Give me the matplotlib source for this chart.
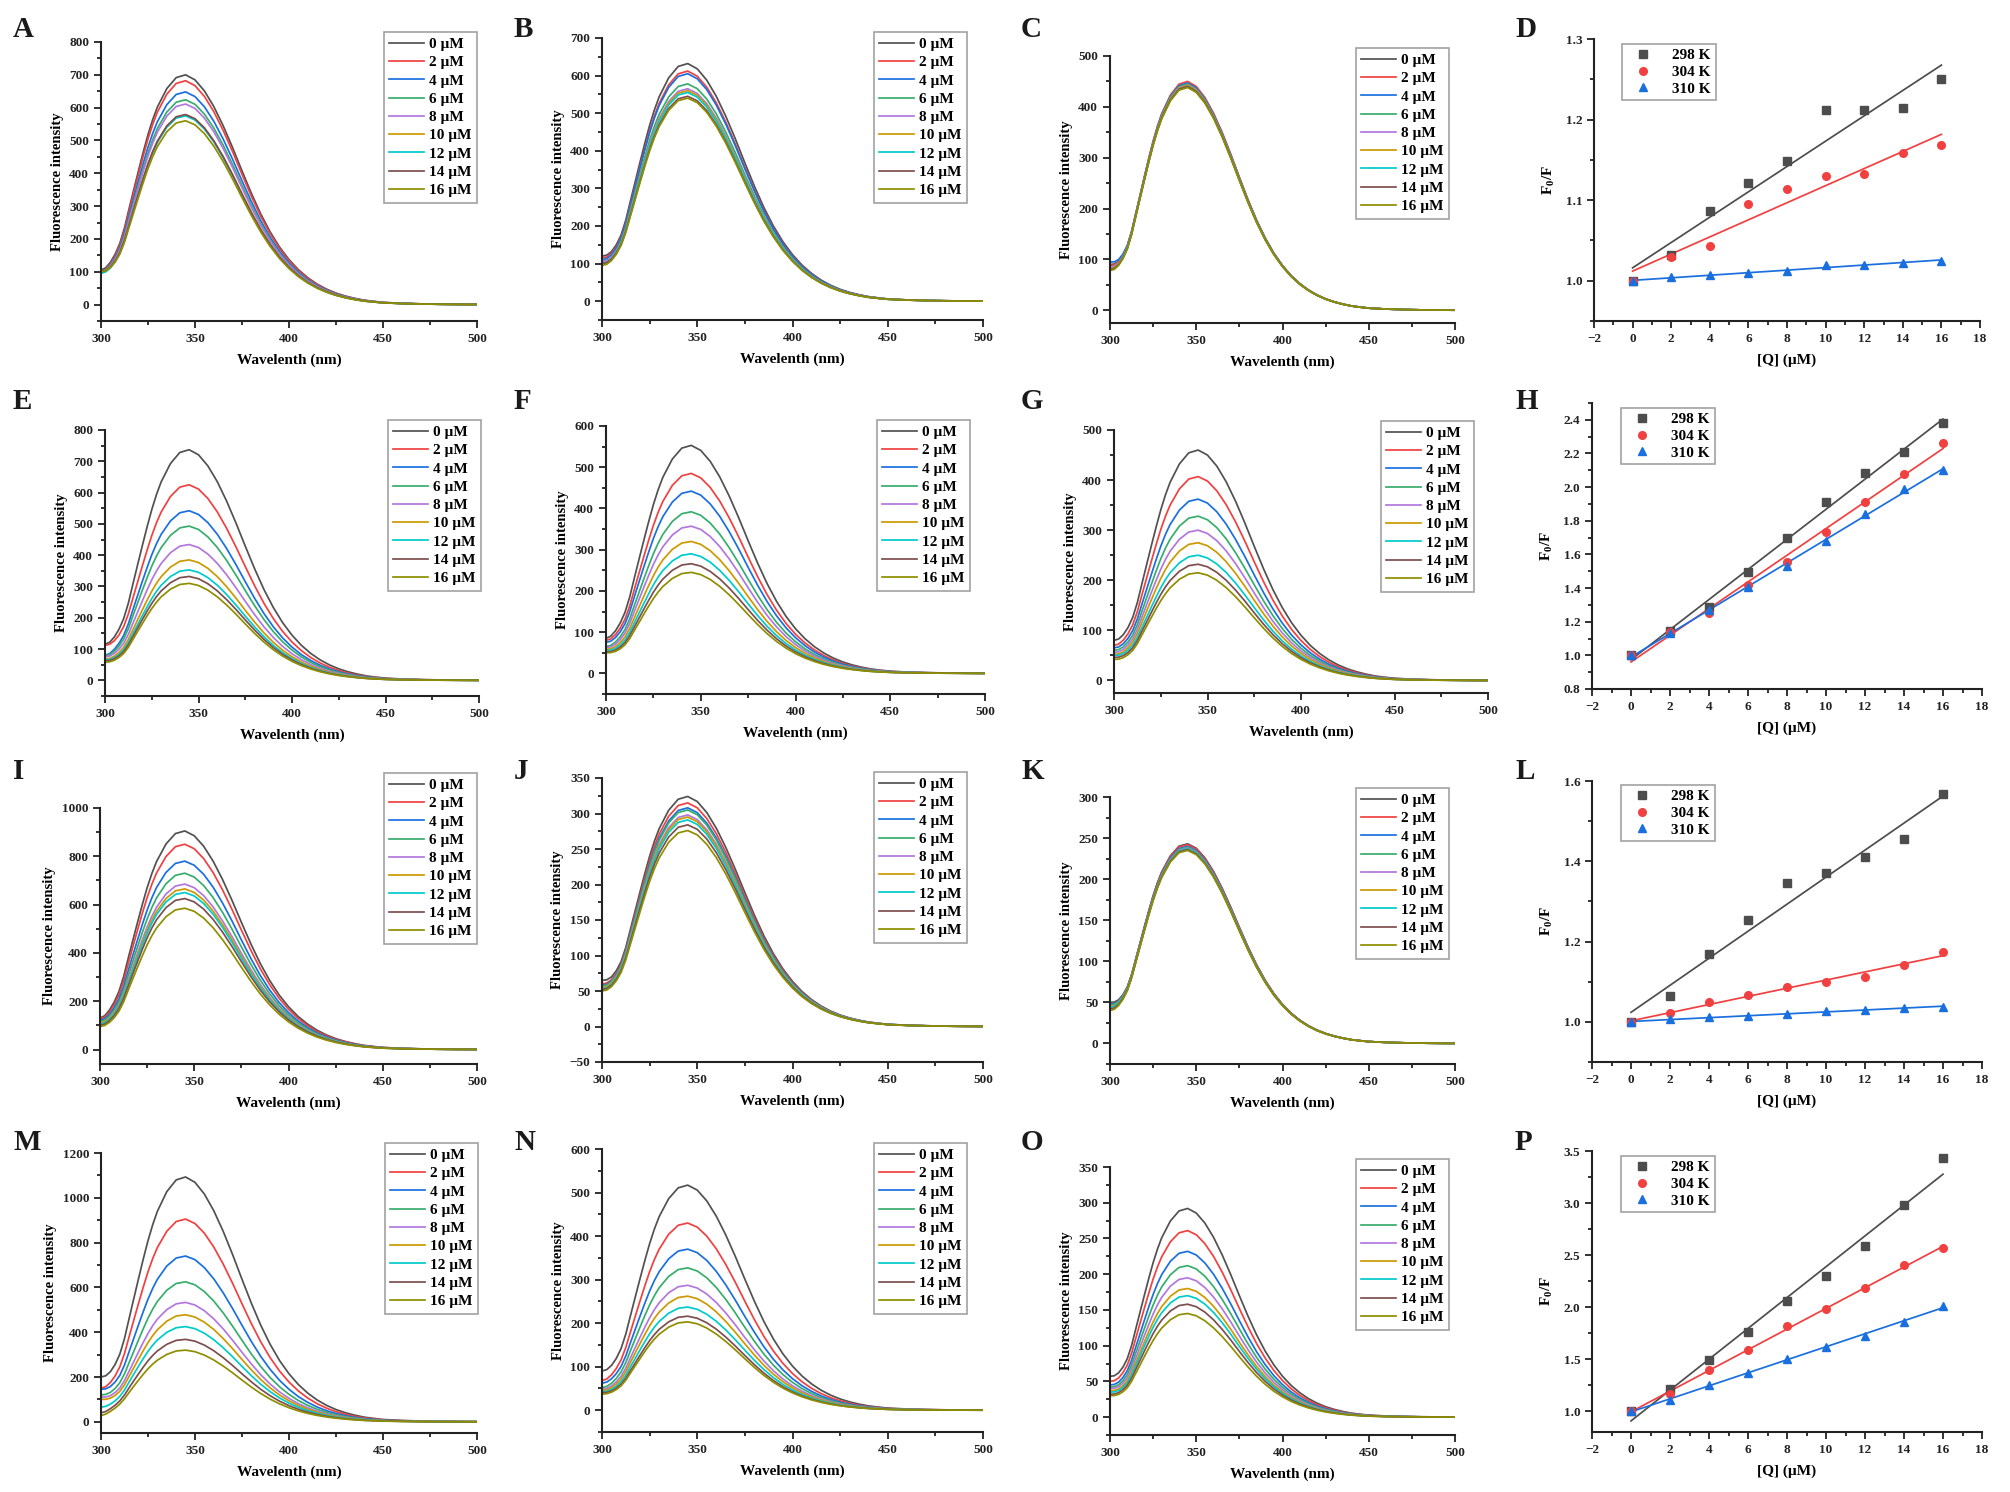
import numpy as np
import matplotlib
matplotlib.use('Agg')
import matplotlib.pyplot as plt
from matplotlib.ticker import MultipleLocator, FormatStrFormatter

plt.rcParams['font.family'] = ['Liberation Serif', 'DejaVu Serif']
plt.rcParams['font.weight'] = 'bold'
plt.rcParams['axes.labelweight'] = 'bold'
plt.rcParams['mathtext.fontset'] = 'custom'
plt.rcParams['mathtext.rm'] = 'Liberation Serif:bold'
plt.rcParams['mathtext.it'] = 'Liberation Serif:italic:bold'
plt.rcParams['mathtext.bf'] = 'Liberation Serif:bold'

W, H = 2010, 1492

# ---------------- data ----------------
conc_labels = ['0 µM', '2 µM', '4 µM', '6 µM', '8 µM', '10 µM', '12 µM', '14 µM', '16 µM']
conc_colors = ['#515151', '#F14040', '#1A6FDF', '#37AD6B', '#B177DE',
               '#CC9900', '#00CBCC', '#7D4E4E', '#8E8E00']

# emission wavelength grid (nm) and normalised emission profile
wavelength = [300, 302.5, 305, 307.5, 310, 312.5, 315, 317.5, 320, 322.5, 325, 327.5,
              330, 335, 340, 345, 350, 355, 360, 365, 370, 375, 380, 385, 390, 395,
              400, 405, 410, 415, 420, 425, 430, 435, 440, 445, 450, 460, 470, 480,
              490, 500]
profile = [0.156, 0.165, 0.188, 0.222, 0.268, 0.335, 0.42, 0.503, 0.585, 0.665, 0.74,
           0.805, 0.86, 0.94, 0.988, 1.0, 0.978, 0.93, 0.862, 0.778, 0.683, 0.582,
           0.484, 0.394, 0.316, 0.25, 0.196, 0.152, 0.117, 0.089, 0.067, 0.05, 0.037,
           0.027, 0.019, 0.014, 0.0095, 0.0055, 0.0032, 0.0018, 0.001, 0.0005]
edge_weight = [1.0, 0.85, 0.62, 0.45, 0.3, 0.2, 0.12, 0.07, 0.04, 0.015, 0.0, 0.0,
               0, 0, 0, 0, 0, 0, 0, 0, 0, 0, 0, 0, 0, 0, 0, 0, 0, 0, 0, 0, 0, 0,
               0, 0, 0, 0, 0, 0, 0, 0]

# peak intensities and 300 nm values for each concentration, per panel
A_peak = [700, 682, 648, 624, 611, 578, 575, 579, 560]
A_start = [105, 100, 100, 100, 100, 100, 95, 100, 100]
B_peak = [632, 612, 605, 578, 565, 560, 555, 545, 540]
B_start = [120, 115, 110, 105, 105, 100, 100, 100, 95]
C_peak = [445, 450, 447, 445, 443, 442, 440, 440, 438]
C_start = [90, 88, 95, 85, 85, 82, 80, 80, 78]
E_peak = [737, 625, 542, 493, 434, 385, 353, 332, 310]
E_start = [115, 112, 80, 78, 75, 68, 65, 62, 58]
F_peak = [553, 485, 442, 392, 357, 320, 290, 266, 245]
F_start = [85, 80, 75, 65, 62, 58, 55, 52, 50]
G_peak = [460, 407, 362, 328, 300, 275, 250, 232, 215]
G_start = [80, 70, 65, 60, 56, 52, 50, 46, 42]
I_peak = [905, 850, 780, 730, 685, 665, 650, 625, 585]
I_start = [130, 125, 120, 115, 110, 110, 105, 100, 95]
J_peak = [324, 315, 308, 305, 298, 295, 291, 284, 276]
J_start = [65, 60, 58, 57, 55, 55, 53, 52, 50]
K_peak = [243, 242, 240, 239, 238, 237, 237, 236, 235]
K_start = [50, 48, 48, 47, 45, 45, 44, 42, 40]
M_peak = [1093, 905, 740, 625, 533, 478, 425, 368, 320]
M_start = [200, 150, 145, 120, 110, 100, 65, 40, 28]
N_peak = [517, 430, 370, 327, 287, 262, 237, 216, 203]
N_start = [90, 68, 62, 52, 48, 45, 42, 40, 37]
O_peak = [292, 261, 232, 212, 195, 180, 170, 158, 145]
O_start = [57, 50, 45, 42, 40, 37, 35, 32, 30]

# Stern-Volmer data
quencher = [0, 2, 4, 6, 8, 10, 12, 14, 16]
temp_labels = ['298 K', '304 K', '310 K']
temp_colors = ['#4D4D4D', '#F14040', '#1A6FDF']
temp_markers = ['s', 'o', '^']
D_298 = [1.0, 1.032, 1.087, 1.121, 1.148, 1.212, 1.212, 1.214, 1.25]
D_304 = [1.0, 1.030, 1.043, 1.095, 1.114, 1.130, 1.132, 1.158, 1.169]
D_310 = [1.0, 1.004, 1.007, 1.009, 1.012, 1.019, 1.020, 1.022, 1.025]
H_298 = [1.0, 1.145, 1.285, 1.495, 1.695, 1.91, 2.085, 2.21, 2.38]
H_304 = [1.0, 1.14, 1.25, 1.42, 1.555, 1.735, 1.91, 2.08, 2.265]
H_310 = [1.0, 1.13, 1.27, 1.405, 1.53, 1.68, 1.84, 1.99, 2.10]
L_298 = [1.0, 1.065, 1.17, 1.253, 1.345, 1.372, 1.41, 1.455, 1.568]
L_304 = [1.0, 1.022, 1.05, 1.066, 1.087, 1.10, 1.112, 1.142, 1.175]
L_310 = [1.0, 1.006, 1.011, 1.015, 1.02, 1.026, 1.029, 1.035, 1.038]
P_298 = [1.0, 1.21, 1.49, 1.765, 2.055, 2.30, 2.59, 2.985, 3.43]
P_304 = [1.0, 1.165, 1.40, 1.59, 1.815, 1.98, 2.185, 2.40, 2.565]
P_310 = [1.0, 1.11, 1.25, 1.37, 1.50, 1.615, 1.725, 1.86, 2.015]

# ---------------- layout (pixel boxes: left, top, right, bottom) ----------------
spec_panels = [
    ('A', (101, 42, 477, 321), (-50, 800), 100, A_peak, A_start, (384, 32), (13, 16)),
    ('B', (602, 38, 983, 320), (-50, 700), 100, B_peak, B_start, (874, 32), (514, 16)),
    ('C', (1110, 56, 1455, 323), (-25, 500), 100, C_peak, C_start, (1356, 48), (1021, 16)),
    ('E', (105, 430, 479, 696), (-50, 800), 100, E_peak, E_start, (388, 420), (13, 388)),
    ('F', (606, 426, 985, 694), (-50, 600), 100, F_peak, F_start, (877, 420), (514, 388)),
    ('G', (1114, 430, 1488, 693), (-25, 500), 100, G_peak, G_start, (1381, 421), (1021, 388)),
    ('I', (100, 808, 477, 1064), (-60, 1000), 200, I_peak, I_start, (384, 773), (13, 758)),
    ('J', (602, 778, 983, 1062), (-50, 350), 50, J_peak, J_start, (874, 772), (514, 758)),
    ('K', (1110, 797, 1455, 1064), (-25, 300), 50, K_peak, K_start, (1356, 788), (1021, 758)),
    ('M', (101, 1153, 477, 1433), (-50, 1200), 200, M_peak, M_start, (385, 1143), (13, 1129)),
    ('N', (602, 1149, 983, 1432), (-50, 600), 100, N_peak, N_start, (874, 1143), (514, 1129)),
    ('O', (1110, 1167, 1455, 1435), (-25, 350), 50, O_peak, O_start, (1356, 1159), (1021, 1129)),
]

sv_panels = [
    ('D', (1594, 39, 1980, 321), (0.95, 1.3), 0.1, (D_298, D_304, D_310), (1622, 44), (1515, 16)),
    ('H', (1592, 403, 1982, 689), (0.8, 2.5), 0.2, (H_298, H_304, H_310), (1621, 408), (1515, 388)),
    ('L', (1592, 781, 1982, 1062), (0.9, 1.6), 0.2, (L_298, L_304, L_310), (1621, 785), (1515, 758)),
    ('P', (1592, 1151, 1982, 1432), (0.8, 3.5), 0.5, (P_298, P_304, P_310), (1621, 1156), (1515, 1129)),
]

fig = plt.figure(figsize=(W / 100, H / 100), dpi=100)


def make_axes(box):
    l, t, r, b = box
    ax = fig.add_axes([l / W, 1 - b / H, (r - l) / W, (b - t) / H])
    for s in ('top', 'right'):
        ax.spines[s].set_visible(False)
    for s in ('left', 'bottom'):
        ax.spines[s].set_linewidth(1.5)
        ax.spines[s].set_color('#222222')
    ax.tick_params(which='both', direction='out', width=1.3, labelsize=9.5, colors='#222222')
    ax.tick_params(which='major', length=5)
    ax.tick_params(which='minor', length=3)
    return ax


def bold_ticks(ax):
    for lab in ax.get_xticklabels() + ax.get_yticklabels():
        lab.set_fontweight('bold')


def letter(txt, xy):
    fig.text(xy[0] / W, 1 - xy[1] / H, txt, fontsize=21, fontweight='bold',
             va='top', ha='left', color='#1a1a1a')


wl = np.array(wavelength)
prof = np.array(profile)
edge = np.array(edge_weight)

for name, box, ylim, ymaj, peaks, starts, leg_xy, let_xy in spec_panels:
    ax = make_axes(box)
    for i in range(len(conc_labels)):
        y = peaks[i] * prof + (starts[i] - peaks[i] * prof[0]) * edge
        ax.plot(wl, y, color=conc_colors[i], lw=1.25, label=conc_labels[i])
    ax.set_xlim(300, 500)
    ax.set_ylim(*ylim)
    ax.xaxis.set_major_locator(MultipleLocator(50))
    ax.xaxis.set_minor_locator(MultipleLocator(25))
    ax.yaxis.set_major_locator(MultipleLocator(ymaj))
    ax.yaxis.set_minor_locator(MultipleLocator(ymaj / 2))
    lowest = -50 if (ymaj == 50 and ylim[0] <= -50) else 0
    ax.set_yticks([v for v in ax.get_yticks() if lowest <= v <= ylim[1]])
    ax.set_xlabel('Wavelenth (nm)', fontsize=11, fontweight='bold', labelpad=6)
    ax.set_ylabel('Fluorescence intensity', fontsize=10.5, fontweight='bold', labelpad=4)
    bold_ticks(ax)
    leg = ax.legend(loc='upper left', bbox_to_anchor=(leg_xy[0] / W, 1 - leg_xy[1] / H),
                    bbox_transform=fig.transFigure, borderaxespad=0, frameon=True,
                    fancybox=False, labelspacing=0.3, handlelength=2.3,
                    handletextpad=0.3, borderpad=0.35, prop={'weight': 'bold', 'size': 11})
    leg.get_frame().set_edgecolor('#8a8a8a')
    leg.get_frame().set_linewidth(1.2)
    letter(name, let_xy)

q = np.array(quencher)
for name, box, ylim, ymaj, series, leg_xy, let_xy in sv_panels:
    ax = make_axes(box)
    for k, vals in enumerate(series):
        v = np.array(vals)
        ax.plot(q, v, linestyle='none', marker=temp_markers[k], color=temp_colors[k],
                markersize=5.5, label=temp_labels[k], zorder=3)
        coef = np.polyfit(q, v, 1)
        ax.plot([q[0], q[-1]], np.polyval(coef, [q[0], q[-1]]), color=temp_colors[k],
                lw=1.25, zorder=2)
    ax.set_xlim(-2, 18)
    ax.set_ylim(*ylim)
    ax.xaxis.set_major_locator(MultipleLocator(2))
    ax.xaxis.set_minor_locator(MultipleLocator(1))
    ax.yaxis.set_major_locator(MultipleLocator(ymaj))
    ax.yaxis.set_minor_locator(MultipleLocator(ymaj / 2))
    ax.yaxis.set_major_formatter(FormatStrFormatter('%.1f'))
    ax.set_xlabel('[Q] (µM)', fontsize=11, fontweight='bold', labelpad=6)
    ax.set_ylabel(r'F$_{\mathit{0}}$/F', fontsize=11, fontweight='bold', labelpad=6)
    bold_ticks(ax)
    leg = ax.legend(loc='upper left', bbox_to_anchor=(leg_xy[0] / W, 1 - leg_xy[1] / H),
                    bbox_transform=fig.transFigure, borderaxespad=0, frameon=True,
                    fancybox=False, labelspacing=0.2, handlelength=2.2, numpoints=1,
                    handletextpad=0.8, borderpad=0.3, prop={'weight': 'bold', 'size': 11})
    leg.get_frame().set_edgecolor('#8a8a8a')
    leg.get_frame().set_linewidth(1.2)
    letter(name, let_xy)

fig.savefig('out.png', dpi=100, facecolor='white')
